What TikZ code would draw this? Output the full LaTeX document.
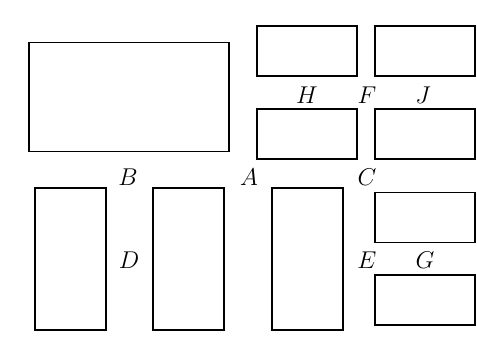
\documentclass[tikz,border=0pt]{standalone}
\usepackage{tikz}
\usetikzlibrary{positioning}
\tikzset{
  wide/.style={
    rectangle, draw=black, line width=1pt,
    minimum width=3cm, minimum height=1.5cm,
    inner sep=0pt, outer sep=0pt
  },
  tall/.style={
    rectangle, draw=black, line width=1pt,
    minimum width=2.13cm, minimum height=4.26cm,
    inner sep=0pt, outer sep=0pt
  },
  big/.style={
    rectangle, draw=black, line width=1pt,
    minimum width=6cm, minimum height=3.27cm,
    inner sep=0pt, outer sep=0pt
  },
  lbl/.style={font=\fontsize{21}{24}\selectfont, inner sep=0pt},
}

\begin{document}
\begin{tikzpicture}[x=0.03cm, y=-0.03cm]
  \useasboundingbox (0,0) rectangle (477,336);

  % rooms
  \node (big)  [big]  at (129,97)    {};
  \node (tl)   [wide] at (307,51)    {};
  \node (tr)   [wide] at (425,51)    {};
  \node (ml)   [wide] at (307,134)   {};
  \node (mr)   [wide] at (425,134)   {};
  \node (t1)   [tall] at (70.5,259)  {};
  \node (t2)   [tall] at (188.5,259) {};
  \node (t3)   [tall] at (307.5,259) {};
  \node (lr1)  [wide] at (425,217.5) {};
  \node (lr2)  [wide] at (425,300)   {};

  % letters
  \node (H) [lbl] at (307,95)  {$H$};
  \node (F) [lbl] at (367,95)  {$F$};
  \node (J) [lbl] at (423,95)  {$J$};
  \node (B) [lbl] at (128,177) {$B$};
  \node (A) [lbl] at (249,177) {$A$};
  \node (C) [lbl] at (367,177) {$C$};
  \node (D) [lbl] at (129,260) {$D$};
  \node (E) [lbl] at (367,260) {$E$};
  \node (G) [lbl] at (425,260) {$G$};
\end{tikzpicture}
\end{document}
